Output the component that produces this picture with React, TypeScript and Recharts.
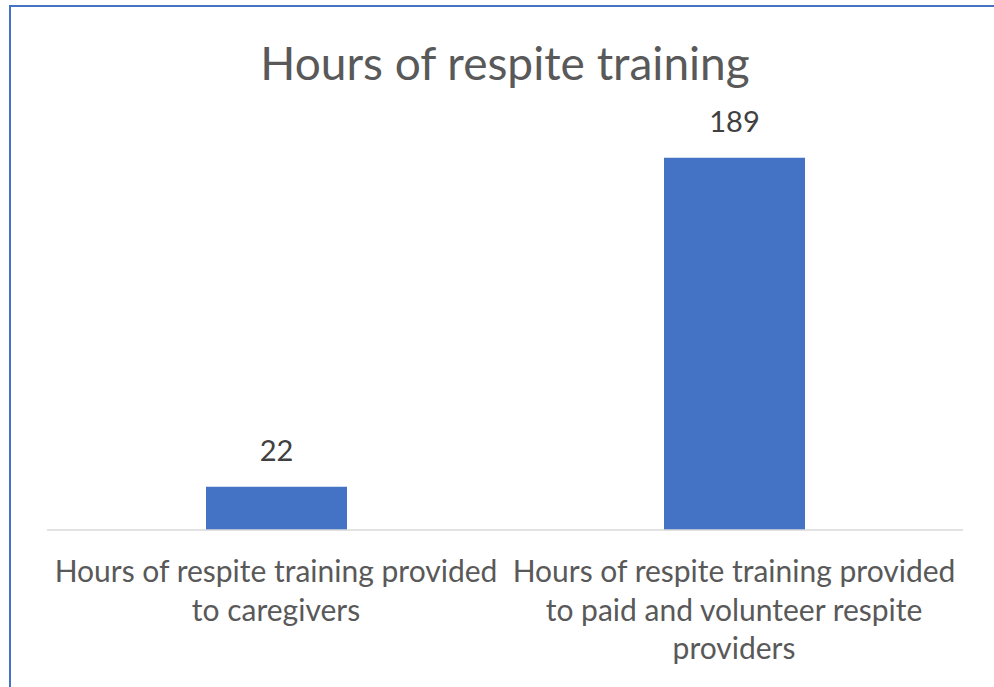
import { BarChart, Bar, XAxis, YAxis, LabelList } from 'recharts'

const categories = [
  'Hours of respite training provided to caregivers',
  'Hours of respite training provided to paid and volunteer respite providers',
]
const hours = [22, 189]
const title = 'Hours of respite training'

const data = categories.map((name, i) => ({ name, hours: hours[i] }))

const FONT = 'Lato, "Open Sans", sans-serif'

// greedy word wrap, roughly like Excel does it
function wrap(text: string, maxChars: number) {
  const lines: string[] = []
  let cur = ''
  text.split(' ').forEach((w) => {
    const next = cur ? cur + ' ' + w : w
    if (next.length > maxChars && cur) {
      lines.push(cur)
      cur = w
    } else {
      cur = next
    }
  })
  if (cur) lines.push(cur)
  return lines
}

function WrappedTick(props: any) {
  const { x, y, payload } = props
  const lines = wrap(payload.value, 35)
  return (
    <text x={x} y={y} textAnchor="middle" fill="#595959" fontSize={30} fontFamily={FONT}>
      {lines.map((l, i) => (
        <tspan key={i} x={x} dy={i === 0 ? 44 : 38.5}>
          {l}
        </tspan>
      ))}
    </text>
  )
}

export default function App() {
  return (
    <div style={{ position: 'absolute', left: 0, top: 0, width: 994, height: 687, background: '#fff', overflow: 'hidden' }}>
      {/* chart area border, only top/left are visible in the crop */}
      <div
        style={{
          position: 'absolute',
          left: 9,
          top: 5,
          width: 1100,
          height: 800,
          borderTop: '2.5px solid #4472c4',
          borderLeft: '2.5px solid #4472c4',
        }}
      />
      <div
        style={{
          position: 'absolute',
          left: 0,
          top: 36,
          width: 1010,
          textAlign: 'center',
          fontFamily: FONT,
          fontSize: 46,
          color: '#595959',
          lineHeight: '54px',
        }}
      >
        {title}
      </div>
      <div style={{ position: 'absolute', left: 0, top: 0 }}>
        <BarChart width={994} height={687} data={data} margin={{ top: 136, right: 31, bottom: 37, left: 47 }}>
          <XAxis
            dataKey="name"
            height={120}
            axisLine={{ stroke: '#d9d9d9', strokeWidth: 1.5 }}
            tickLine={false}
            interval={0}
            tick={<WrappedTick />}
          />
          <YAxis hide domain={[0, 200]} />
          <Bar dataKey="hours" fill="#4472c4" barSize={141} isAnimationActive={false}>
            <LabelList dataKey="hours" position="top" offset={26} fill="#404040" fontSize={29} fontFamily={FONT} />
          </Bar>
        </BarChart>
      </div>
    </div>
  )
}
